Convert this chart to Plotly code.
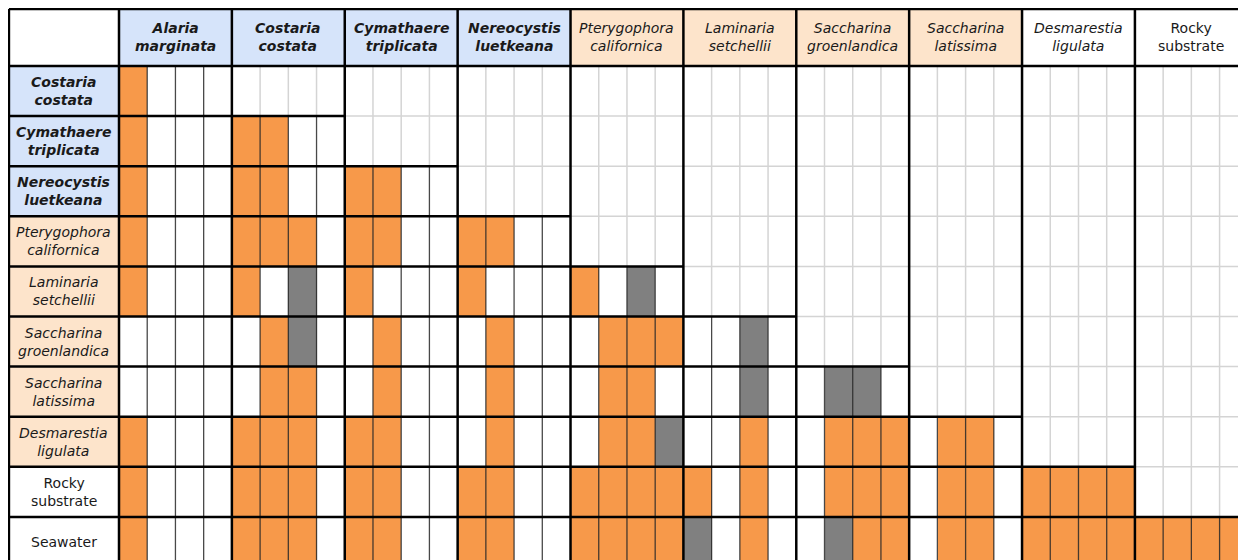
import numpy as np
import plotly.graph_objects as go

# ---------------- data ----------------
col_labels = ["Alaria marginata", "Costaria costata", "Cymathaere triplicata",
              "Nereocystis luetkeana", "Pterygophora californica", "Laminaria setchellii",
              "Saccharina groenlandica", "Saccharina latissima", "Desmarestia ligulata",
              "Rocky substrate"]
col_styles = ["bi", "bi", "bi", "bi", "i", "i", "i", "i", "i", "n"]
col_bgs = ["blue", "blue", "blue", "blue", "peach", "peach", "peach", "peach", "white", "white"]

row_labels = ["Costaria costata", "Cymathaere triplicata", "Nereocystis luetkeana",
              "Pterygophora californica", "Laminaria setchellii", "Saccharina groenlandica",
              "Saccharina latissima", "Desmarestia ligulata", "Rocky substrate", "Seawater"]
row_styles = ["bi", "bi", "bi", "i", "i", "i", "i", "i", "n", "n"]
row_bgs = ["blue", "blue", "blue", "peach", "peach", "peach", "peach", "peach", "white", "white"]

# O = orange, G = grey, W = white; one 4-letter group per column species
cell_codes = [
    "OWWW",
    "OWWW OOWW",
    "OWWW OOWW OOWW",
    "OWWW OOOW OOWW OOWW",
    "OWWW OWGW OWWW OWWW OWGW",
    "WWWW WOGW WOWW WOWW WOOO WWGW",
    "WWWW WOOW WOWW WOWW WOOW WWGW WGGW",
    "OWWW OOOW OOWW WOWW WOOG WWOW WOOO WOOW",
    "OWWW OOOW OOWW OOWW OOOO OWOW WOOO WOOW OOOO",
    "OWWW OOOW OOWW OOWW OOOO GWOW WGOO WOOW OOOO OOOO",
]

# ---------------- styling ----------------
SUB = 4
NG = len(col_labels)
NR = len(row_labels)
NX = NG * SUB
W_PX, H_PX = 1238, 552
unit_x, unit_y = 28.22, 50.1
label_w = 3.90
header_h = 1.14
x0 = -111 / unit_x
x_range = [x0, x0 + W_PX / unit_x]
y0 = -58 / unit_y
y_range = [y0 + H_PX / unit_y, y0]
bg_colors = {"blue": "#D6E4FA", "peach": "#FDE4CB", "white": "#FFFFFF"}
code_val = {"W": 0, "O": 1, "G": 2}
ORANGE = "#F7994A"
GREY = "#808080"
FONT = "DejaVu Sans"

z = np.zeros((NR, NX))
for i, codes in enumerate(cell_codes):
    for g, grp in enumerate(codes.split()):
        for s, ch in enumerate(grp):
            z[i, g * SUB + s] = code_val[ch]

fig = go.Figure()
fig.add_trace(go.Heatmap(
    z=z, x=np.arange(NX) + 0.5, y=np.arange(NR) + 0.5,
    zmin=0, zmax=2, showscale=False, hoverinfo="skip",
    colorscale=[[0, "#FFFFFF"], [0.33, "#FFFFFF"], [0.33, ORANGE], [0.67, ORANGE],
                [0.67, GREY], [1, GREY]],
))

shapes = []
for g in range(NG):
    shapes.append(dict(type="rect", xref="x", yref="y", x0=g * SUB, x1=(g + 1) * SUB,
                       y0=-header_h, y1=0, fillcolor=bg_colors[col_bgs[g]],
                       line=dict(width=0), layer="below"))
for i in range(NR):
    shapes.append(dict(type="rect", xref="x", yref="y", x0=-label_w, x1=0,
                       y0=i, y1=i + 1, fillcolor=bg_colors[row_bgs[i]],
                       line=dict(width=0), layer="below"))

light_x, light_y = [], []
dark_x, dark_y = [], []
black_x, black_y = [], []


def seg(xs, ys, a, b):
    xs.extend([a[0], b[0], None])
    ys.extend([a[1], b[1], None])


bottom = NR + 0.5
# subcell vertical lines
for i in range(NR):
    for g in range(NG):
        for s in range(1, SUB):
            x = g * SUB + s
            if g <= i:
                seg(dark_x, dark_y, (x, i), (x, i + 1))
            else:
                seg(light_x, light_y, (x, i), (x, i + 1))
# horizontal row lines
for i in range(1, NR + 1):
    for g in range(NG):
        if g <= i:
            seg(black_x, black_y, (g * SUB, i), ((g + 1) * SUB, i))
        else:
            seg(light_x, light_y, (g * SUB, i), ((g + 1) * SUB, i))
    seg(black_x, black_y, (-label_w, i), (0, i))
# group vertical lines
for g in range(NG + 1):
    seg(black_x, black_y, (g * SUB, -header_h), (g * SUB, bottom))
# outer borders
seg(black_x, black_y, (-label_w, -header_h), (-label_w, bottom))
seg(black_x, black_y, (-label_w, -header_h), (NX, -header_h))
seg(black_x, black_y, (-label_w, 0), (NX, 0))

for xs, ys, col, w in [(light_x, light_y, "#D4D4D4", 1.5),
                       (dark_x, dark_y, "rgba(40,40,40,0.85)", 1.3),
                       (black_x, black_y, "#000000", 2.5)]:
    fig.add_trace(go.Scatter(x=xs, y=ys, mode="lines", hoverinfo="skip",
                             line=dict(color=col, width=w), showlegend=False))


def fmt(label, style):
    parts = label.split(" ")
    if style == "bi":
        parts = ["<b><i>%s</i></b>" % p for p in parts]
    elif style == "i":
        parts = ["<i>%s</i>" % p for p in parts]
    return "<br>".join(parts)


annotations = []
for g in range(NG):
    annotations.append(dict(x=g * SUB + SUB / 2, y=-header_h / 2, xref="x", yref="y",
                            text=fmt(col_labels[g], col_styles[g]), showarrow=False,
                            font=dict(family=FONT, size=14, color="#1a1a1a"),
                            xanchor="center", yanchor="middle"))
for i in range(NR):
    annotations.append(dict(x=-label_w / 2, y=i + 0.5, xref="x", yref="y",
                            text=fmt(row_labels[i], row_styles[i]), showarrow=False,
                            font=dict(family=FONT, size=14, color="#1a1a1a"),
                            xanchor="center", yanchor="middle"))

fig.update_layout(
    width=W_PX, height=H_PX, margin=dict(l=0, r=0, t=0, b=0),
    paper_bgcolor="white", plot_bgcolor="white", showlegend=False,
    xaxis=dict(range=x_range, visible=False, fixedrange=True),
    yaxis=dict(range=y_range, visible=False, fixedrange=True),
    shapes=shapes, annotations=annotations,
)
fig.write_html("out.html")
